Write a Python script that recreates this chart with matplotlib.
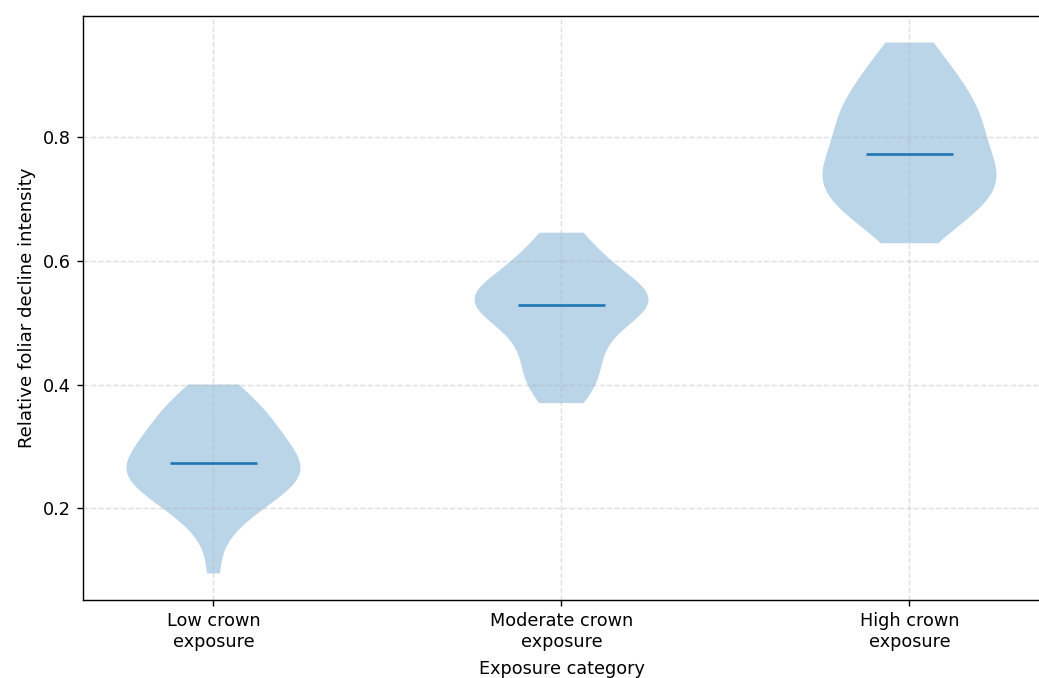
import matplotlib
matplotlib.use("Agg")
import matplotlib.pyplot as plt

# -----------------------------
# Data
# -----------------------------
categories = ["Low crown\nexposure", "Moderate crown\nexposure", "High crown\nexposure"]

low_exposure = [
    0.095, 0.152, 0.176, 0.189, 0.198, 0.206, 0.213, 0.219, 0.224, 0.229,
    0.236, 0.241, 0.245, 0.249, 0.253, 0.256, 0.259, 0.262, 0.266, 0.271,
    0.275, 0.280, 0.285, 0.290, 0.295, 0.300, 0.305, 0.310, 0.316, 0.322,
    0.328, 0.334, 0.341, 0.348, 0.355, 0.362, 0.370, 0.379, 0.389, 0.400,
]

moderate_exposure = [
    0.370, 0.380, 0.390, 0.400, 0.410, 0.420, 0.430, 0.440, 0.450, 0.460,
    0.470, 0.480, 0.489, 0.497, 0.504, 0.510, 0.516, 0.521, 0.525, 0.527,
    0.529, 0.531, 0.534, 0.537, 0.540, 0.543, 0.547, 0.551, 0.555, 0.560,
    0.565, 0.571, 0.577, 0.584, 0.592, 0.601, 0.611, 0.622, 0.634, 0.645,
]

high_exposure = [
    0.628, 0.649, 0.660, 0.669, 0.677, 0.685, 0.692, 0.698, 0.704, 0.710,
    0.716, 0.722, 0.727, 0.733, 0.738, 0.743, 0.749, 0.755, 0.762, 0.771,
    0.773, 0.778, 0.790, 0.803, 0.812, 0.812, 0.821, 0.828, 0.835, 0.842,
    0.850, 0.858, 0.866, 0.875, 0.885, 0.896, 0.909, 0.923, 0.938, 0.952,
]

# -----------------------------
# Plot
# -----------------------------
dpi = 127
fig = plt.figure(figsize=(1039 / dpi, 678 / dpi), dpi=dpi)
ax = fig.add_axes([83 / 1039, 1 - 600 / 678, 957 / 1039, 584 / 678])

ax.violinplot(
    [low_exposure, moderate_exposure, high_exposure],
    positions=[1, 2, 3],
    showmedians=True,
    showextrema=False,
)

ax.set_xticks([1, 2, 3])
ax.set_xticklabels(categories)
ax.set_xlabel("Exposure category", labelpad=5)
ax.set_ylabel("Relative foliar decline intensity", fontsize=10.3)
ax.grid(True, linestyle="--", alpha=0.4)

fig.savefig("out.png", dpi=dpi)
